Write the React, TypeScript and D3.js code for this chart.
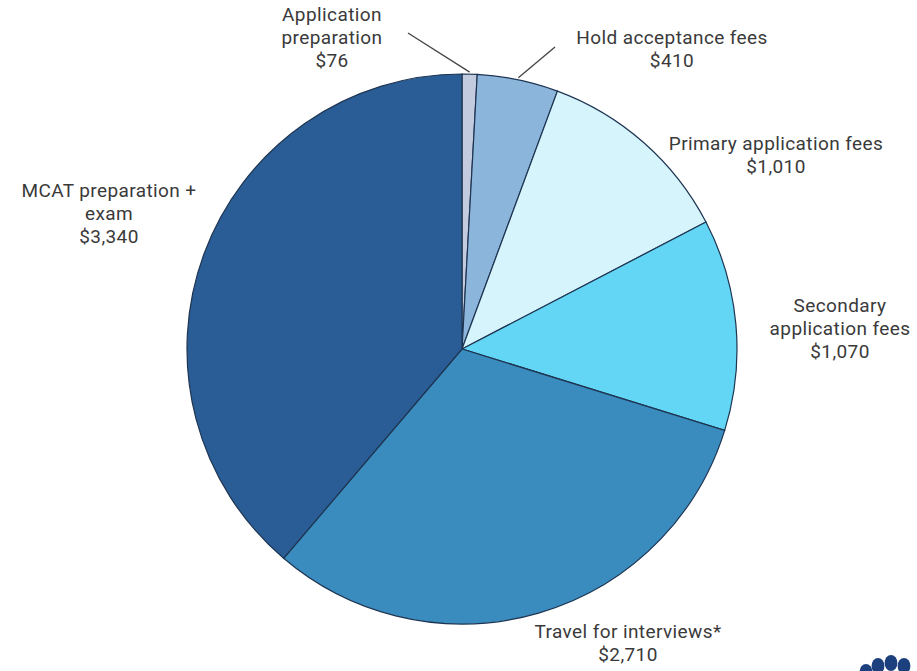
import React from 'react';
import * as d3 from 'd3';

const categories = [
  'Application preparation',
  'Hold acceptance fees',
  'Primary application fees',
  'Secondary application fees',
  'Travel for interviews*',
  'MCAT preparation + exam',
];
const costs = [76, 410, 1010, 1070, 2710, 3340];
const colors = ['#c3cbdf', '#8cb5dc', '#d6f4fc', '#62d6f4', '#3a8cbf', '#2a5d95'];
// label lines (wrapped) and their anchor point
const labelLines = [
  ['Application', 'preparation', '$76'],
  ['Hold acceptance fees', '$410'],
  ['Primary application fees', '$1,010'],
  ['Secondary', 'application fees', '$1,070'],
  ['Travel for interviews*', '$2,710'],
  ['MCAT preparation +', 'exam', '$3,340'],
];
const labelPos = [[332, 21], [672, 44], [776, 150], [840, 312], [628, 638], [109, 197]];

const width = 917;
const height = 671;
const cx = 462;
const cy = 349;
const radius = 275;

interface Slice {
  name: string
  value: number
}

const App: React.FC = () => {
  const data: Slice[] = categories.map((c, i) => ({name: c, value: costs[i]}));
  const pie = d3.pie<Slice>().value(d => d.value).sort(null);
  const arc = d3.arc<d3.PieArcDatum<Slice>>().innerRadius(0).outerRadius(radius);
  const arcs = pie(data);

  // leader lines for the two small slices at the top
  const inner = d3.arc<d3.PieArcDatum<Slice>>().innerRadius(radius + 2).outerRadius(radius + 2);
  const leaders = [
    {d: arcs[0], to: [408, 33]},
    {d: arcs[1], to: [555, 47]},
  ];

  return (
    <svg width={width} height={height}
         style={{position: 'absolute', left: 0, top: 0, background: '#fff'}}
         fontFamily="Roboto, 'Open Sans', sans-serif">
      <g transform={`translate(${cx},${cy})`}>
        {arcs.map((a, i) => (
          <path key={i} d={arc(a)!} fill={colors[i]} stroke="#1e3552" strokeWidth={1.2}/>
        ))}
      </g>
      {leaders.map((l, i) => {
        const [x, y] = inner.centroid(l.d);
        return <line key={i} x1={cx + x} y1={cy + y} x2={l.to[0]} y2={l.to[1]}
                     stroke="#444" strokeWidth={1.3}/>;
      })}
      {labelLines.map((lines, i) => (
        <text key={i} x={labelPos[i][0]} y={labelPos[i][1]} textAnchor="middle"
              fontSize={19} fill="#3a3a3a" letterSpacing={0.4}>
          {lines.map((t, j) => (
            <tspan key={j} x={labelPos[i][0]} dy={j === 0 ? 0 : 23}>{t}</tspan>
          ))}
        </text>
      ))}
      {/* partial peacock logo in the corner */}
      <g fill="#1c3f7e">
        {[[866, 672, 8], [878, 666, 8], [891, 663, 8], [904, 666, 8]].map((c, i) => (
          <ellipse key={i} cx={c[0]} cy={c[1]} rx={c[2] * 0.8} ry={c[2]}/>
        ))}
      </g>
    </svg>
  );
};

export default App;
